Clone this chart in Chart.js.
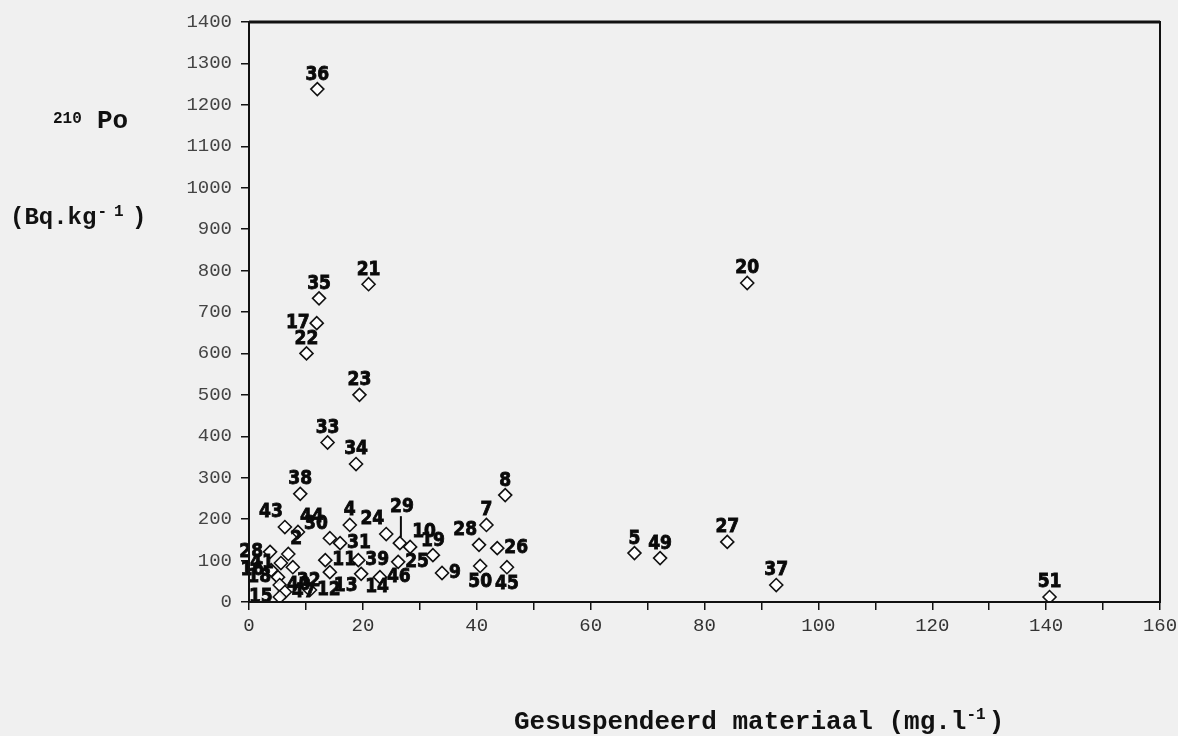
<!DOCTYPE html>
<html>
<head>
<meta charset="utf-8">
<script src="https://cdn.jsdelivr.net/npm/chart.js@4/dist/chart.umd.min.js"></script>
<style>
html,body{margin:0;padding:0;background:#f0f0f0;}
#wrap{width:1178px;height:736px;position:relative;}
</style>
</head>
<body>
<div id="wrap"><canvas id="c" width="1178" height="736"></canvas></div>
<script>
// ---- data ----
const pointIds = ['36','35','21','17','22','23','33','34','20','38','8','7','27','5','49','37','51',
  '28','26','50','45','19','9','10','29','25','24','4','30','31','11','13','39','14','46',
  '43','44','28','2','41','16','18','40','47','32','12','15'];
const suspendedMatter = [12,12.3,21,11.9,10.1,19.4,13.8,18.8,87.5,9.0,45,41.7,84,67.7,72.2,92.6,140.6,
  40.4,43.6,40.6,45.3,32.3,33.9,28.3,26.5,26.2,24.1,17.7,14.2,16.0,13.4,14.2,19.2,19.7,23.0,
  6.3,8.6,3.7,6.9,5.6,3.9,5.1,5.4,6.3,7.7,10.7,5.4];
const po210 = [1238,733,767,673,600,500,385,333,770,261,258,186,145,118,106,41,12,
  138,130,87,84,113,70,133,142,97,164,186,154,142,101,72,101,68,60,
  181,169,121,116,94,77,60,41,24,84,29,12];
const xRange = [0, 160];
const yRange = [0, 1400];

// label placement relative to each marker (layout only)
const labelPlacement = ['a','a','a','l','a','a','a','a','a','a','a','a','a','a','a','a','a',
  'al','r','b','b','a','r','ar','lead','r','al','a','al','r','r','br','r','br','r',
  'al','ar','l','ar','l','l','l','r','r','br','r','l'];

const points = suspendedMatter.map((x, i) => ({x: x, y: po210[i]}));

const PLACE = {
  a:   {dx:0,  dy:-5, align:'center', base:'bottom'},
  b:   {dx:0,  dy:7,  align:'center', base:'top'},
  r:   {dx:7,  dy:0,  align:'left',   base:'middle'},
  l:   {dx:-7, dy:0,  align:'right',  base:'middle'},
  al:  {dx:-2, dy:-5, align:'right',  base:'bottom'},
  ar:  {dx:2,  dy:-5, align:'left',   base:'bottom'},
  br:  {dx:4,  dy:4,  align:'left',   base:'top'},
  lead:{dx:2,  dy:-27,align:'center', base:'bottom'}
};

const labelPlugin = {
  id: 'pointLabels',
  afterDatasetsDraw(chart) {
    const ctx = chart.ctx;
    const meta = chart.getDatasetMeta(0);
    ctx.save();
    ctx.fillStyle = '#0a0a0a';
    ctx.strokeStyle = '#0a0a0a';
    ctx.font = 'bold 19px "DejaVu Sans Condensed", "DejaVu Sans", sans-serif';
    meta.data.forEach((el, i) => {
      const p = PLACE[labelPlacement[i]] || PLACE.a;
      ctx.textAlign = p.align;
      ctx.textBaseline = p.base;
      ctx.lineWidth = 0.8;
      ctx.fillText(pointIds[i], el.x + p.dx, el.y + p.dy);
      ctx.strokeText(pointIds[i], el.x + p.dx, el.y + p.dy);
      if (labelPlacement[i] === 'lead') {
        ctx.lineWidth = 2;
        ctx.beginPath();
        ctx.moveTo(el.x + 1, el.y + p.dy);
        ctx.lineTo(el.x + 1, el.y - 6);
        ctx.stroke();
      }
    });
    ctx.restore();
  }
};

const framePlugin = {
  id: 'frame',
  afterDraw(chart) {
    const a = chart.chartArea;
    const ctx = chart.ctx;
    ctx.save();
    ctx.strokeStyle = '#111';
    ctx.lineWidth = 2;
    ctx.strokeRect(a.left, a.top, a.right - a.left, a.bottom - a.top);
    ctx.lineWidth = 3;
    ctx.beginPath();
    ctx.moveTo(a.left, a.top); ctx.lineTo(a.right, a.top);
    ctx.stroke();
    // titles
    ctx.fillStyle = '#111';
    ctx.textBaseline = 'alphabetic';
    ctx.textAlign = 'left';
    // y title
    ctx.font = 'bold 16px "Liberation Mono", monospace';
    ctx.fillText('210', 53, 123);
    ctx.font = 'bold 26px "Liberation Mono", monospace';
    ctx.fillText('Po', 97, 128);
    ctx.font = 'bold 24px "Liberation Mono", monospace';
    ctx.fillText('(Bq.kg', 10, 224);
    let w = ctx.measureText('(Bq.kg').width;
    ctx.font = 'bold 16px "Liberation Mono", monospace';
    ctx.fillText('-', 10 + w + 1, 216);
    ctx.fillText('1', 114, 216);
    ctx.font = 'bold 24px "Liberation Mono", monospace';
    ctx.fillText(')', 132, 224);
    // x title
    ctx.font = 'bold 26px "Liberation Mono", monospace';
    const t1 = 'Gesuspendeerd materiaal (mg.l';
    ctx.fillText(t1, 514, 729);
    const tw = ctx.measureText(t1).width;
    ctx.font = 'bold 16px "Liberation Mono", monospace';
    ctx.fillText('-1', 514 + tw, 719);
    const tw2 = ctx.measureText('-1').width;
    ctx.font = 'bold 26px "Liberation Mono", monospace';
    ctx.fillText(')', 514 + tw + tw2 + 3, 729);
    ctx.restore();
  }
};

const bgPlugin = {
  id: 'bg',
  beforeDraw(chart) {
    const ctx = chart.ctx;
    ctx.save();
    ctx.fillStyle = '#f0f0f0';
    ctx.fillRect(0, 0, chart.width, chart.height);
    ctx.restore();
  }
};

new Chart(document.getElementById('c'), {
  type: 'scatter',
  data: {
    datasets: [{
      data: points,
      pointStyle: 'rectRot',
      pointRadius: 6.5,
      pointBorderWidth: 1.6,
      pointBorderColor: '#111',
      pointBackgroundColor: 'rgba(255,255,255,0.9)'
    }]
  },
  options: {
    responsive: false,
    animation: false,
    layout: {padding: {top: 22, right: 18, left: 0, bottom: 0}},
    plugins: {legend: {display: false}, tooltip: {enabled: false}},
    scales: {
      x: {
        type: 'linear',
        min: xRange[0], max: xRange[1],
        border: {display: false},
        grid: {drawOnChartArea: false, drawTicks: true, tickLength: 8, color: '#111', lineWidth: 1.5},
        ticks: {
          stepSize: 10, autoSkip: false, maxRotation: 0, padding: 5,
          color: '#333',
          font: {family: '"Liberation Mono", monospace', size: 19},
          callback: v => (v % 20 === 0 ? String(v) : '')
        },
        afterFit: s => { s.height = 134; s.paddingRight = 0; s.paddingLeft = 0; }
      },
      y: {
        type: 'linear',
        min: yRange[0], max: yRange[1],
        border: {display: false},
        grid: {drawOnChartArea: false, drawTicks: true, tickLength: 8, color: '#111', lineWidth: 1.5},
        ticks: {
          stepSize: 100, autoSkip: false, padding: 9,
          color: '#444',
          font: {family: '"Liberation Mono", monospace', size: 19},
          callback: v => String(v)
        },
        afterFit: s => { s.width = 249; s.paddingTop = 0; s.paddingBottom = 0; }
      }
    }
  },
  plugins: [bgPlugin, labelPlugin, framePlugin]
});
</script>
</body>
</html>
